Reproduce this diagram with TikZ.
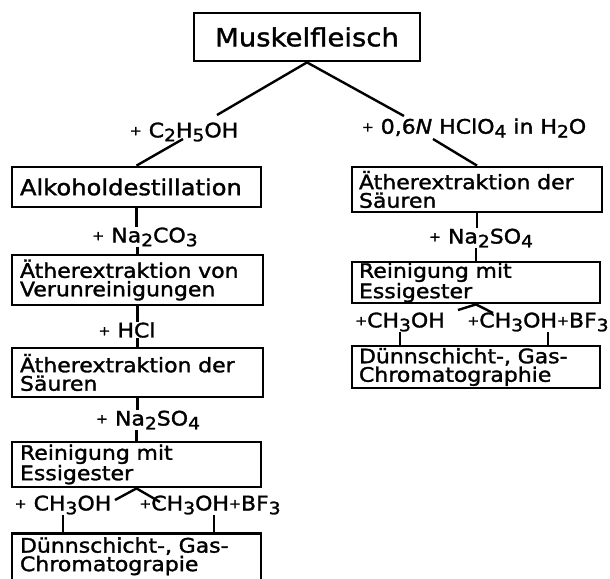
\documentclass[tikz,border=0pt]{standalone}
\usepackage{fontspec}
\setmainfont{DejaVu Sans}[FakeStretch=1.1,FakeBold=1.5]
\usetikzlibrary{calc}
\newcommand\lo[1]{\raisebox{-0.35ex}{\fontsize{17}{17}\selectfont #1}}
\newcommand\pl{\raisebox{0.2ex}{\fontsize{13}{13}\selectfont +}}
\begin{document}
\begin{tikzpicture}[x=1pt,y=-1pt,
  box/.style={draw, line width=2.8pt, inner xsep=8pt, inner ysep=0pt, align=left, anchor=center, font=\fontsize{20}{18.5}\selectfont},
  lab/.style={inner sep=0pt, font=\fontsize{20}{20}\selectfont},
  conn/.style={line width=2.4pt}]
\clip (0,0) rectangle (610,578);
% boxes
\node[box, text width=210pt, minimum height=48pt, align=center, font=\fontsize{25}{28}\selectfont] (M) at (307,37) {Muskelfleisch};
\node[box, text width=233pt, minimum height=40pt, font=\fontsize{22}{22}\selectfont] (A1) at (136.5,187) {Alkoholdestillation};
\node[box, text width=235pt, minimum height=50pt] (A2) at (137.5,280) {Ätherextraktion von\\Verunreinigungen};
\node[box, text width=235pt, minimum height=49pt] (A3) at (137.5,372.5) {Ätherextraktion der\\Säuren};
\node[box, text width=233pt, minimum height=45pt] (A4) at (136.5,464.5) {Reinigung mit\\Essigester};
\node[box, text width=233pt, anchor=north, inner ysep=4pt] (A5) at (136.5,532) {Dünnschicht-, Gas-\\Chromatograpie\\[4pt] \mbox{}};
\node[box, text width=236pt, minimum height=45pt, inner xsep=7pt] (B1) at (477,189.5) {Ätherextraktion der\\Säuren};
\node[box, text width=234pt, minimum height=41pt, inner xsep=7pt] (B2) at (476,282.5) {Reinigung mit\\Essigester};
\node[box, text width=234pt, minimum height=42pt, inner xsep=7pt] (B3) at (476,367) {Dünnschicht-, Gas-\\Chromatographie};
% labels
\node[lab] (L0) at (184,132) {\pl\ C\lo{2}H\lo{5}OH};
\node[lab] (R0) at (474,128) {\pl\ 0,6\textit{N} HClO\lo{4} in H\lo{2}O};
\node[lab] (L1) at (145,237) {\pl\ Na\lo{2}CO\lo{3}};
\node[lab] (L2) at (127,330) {\pl\ HCl};
\node[lab] (L3) at (148,420) {\pl\ Na\lo{2}SO\lo{4}};
\node[lab] (L4a) at (63,505) {\pl\ CH\lo{3}OH};
\node[lab] (L4b) at (210,505) {\pl CH\lo{3}OH\pl BF\lo{3}};
\node[lab] (R1) at (481,238) {\pl\ Na\lo{2}SO\lo{4}};
\node[lab] (R2a) at (400,322) {\pl CH\lo{3}OH};
\node[lab] (R2b) at (538,322) {\pl CH\lo{3}OH\pl BF\lo{3}};
% free ends
\coordinate (cL0a) at (217,115);
\coordinate (cL0b) at (183,139);
\coordinate (cR0a) at (404,116);
\coordinate (cR0b) at (433,139);
\coordinate (cL4a) at (115,500);
\coordinate (cL4b) at (160,502);
\coordinate (cR2a) at (458,310);
\coordinate (cR2b) at (493,313);
% connectors
\draw[conn] (M.south) -- (cL0a);
\draw[conn] (cL0b) -- (A1.north);
\draw[conn] (M.south) -- (cR0a);
\draw[conn] (cR0b) -- (B1.north);
\draw[conn] (A1.south) -- (A1.south |- L1.north);
\draw[conn] (A2.north |- L1.south) -- (A2.north);
\draw[conn] (A2.south) -- (A2.south |- L2.north);
\draw[conn] (A3.north |- L2.south) -- (A3.north);
\draw[conn] (A3.south) -- (A3.south |- L3.north);
\draw[conn] (A4.north |- L3.south) -- (A4.north);
\draw[conn] (cL4a) -- (A4.south) -- (cL4b);
\draw[conn] (L4a.south) -- (L4a.south |- A5.north);
\draw[conn] ($(L4b.south)+(4,0)$) -- ($(L4b.south |- A5.north)+(4,0)$);
\draw[conn] (B1.south) -- (B1.south |- R1.north);
\draw[conn] (B2.north |- R1.south) -- (B2.north);
\draw[conn] (cR2a) -- (B2.south) -- (cR2b);
\draw[conn] (R2a.south) -- (R2a.south |- B3.north);
\draw[conn] ($(R2b.south)+(10,0)$) -- ($(R2b.south |- B3.north)+(10,0)$);
\end{tikzpicture}
\end{document}
